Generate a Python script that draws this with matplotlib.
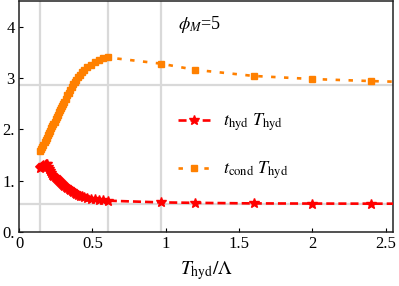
import matplotlib
matplotlib.use("Agg")
import matplotlib.pyplot as plt

# ---- data ----
x_vals = [0.145, 0.152, 0.16, 0.167, 0.175, 0.182, 0.19, 0.197, 0.205, 0.212,
          0.22, 0.228, 0.235, 0.243, 0.25, 0.258, 0.265, 0.273, 0.28, 0.288,
          0.295, 0.303, 0.31, 0.32, 0.33, 0.34, 0.35, 0.36, 0.37, 0.38,
          0.39, 0.402, 0.415, 0.43, 0.445, 0.465, 0.49, 0.515, 0.545, 0.575,
          0.605, 0.967, 1.2, 1.6, 2.0, 2.4, 2.8]
t_cond = [1.58, 1.62, 1.66, 1.70, 1.75, 1.79, 1.84, 1.88, 1.93, 1.97,
          2.02, 2.06, 2.11, 2.15, 2.20, 2.24, 2.28, 2.33, 2.37, 2.41,
          2.46, 2.50, 2.54, 2.60, 2.66, 2.71, 2.77, 2.82, 2.88, 2.93,
          2.97, 3.02, 3.06, 3.11, 3.16, 3.21, 3.26, 3.31, 3.35, 3.38,
          3.40, 3.28, 3.16, 3.04, 2.98, 2.94, 2.91]
t_hyd = [1.25, 1.27, 1.29, 1.30, 1.31, 1.32, 1.33, 1.26, 1.22, 1.18,
         1.15, 1.12, 1.09, 1.07, 1.05, 1.03, 1.01, 0.99, 0.97, 0.95,
         0.93, 0.91, 0.89, 0.87, 0.85, 0.83, 0.81, 0.79, 0.77, 0.755,
         0.74, 0.725, 0.71, 0.695, 0.68, 0.665, 0.65, 0.64, 0.63, 0.62,
         0.61, 0.577, 0.568, 0.557, 0.554, 0.552, 0.551]
grid_x = [0.145, 0.605, 0.966]
grid_y = [2.86, 0.55]
x_ticks = [0, 0.5, 1, 1.5, 2, 2.5]
x_ticklabels = ["0", "0.5", "1", "1.5", "2", "2.5"]
y_ticks = [0, 1, 2, 3, 4]
y_ticklabels = ["0.", "1.", "2.", "3", "4"]
label_hyd = r"$t_{\mathrm{hyd}}\ T_{\mathrm{hyd}}$"
label_cond = r"$t_{\mathrm{cond}}\ T_{\mathrm{hyd}}$"
annotation = r"$\phi_M$=5"
xlabel = r"$T_{\mathrm{hyd}}/\Lambda$"

plt.rcParams["font.family"] = ["Liberation Serif", "DejaVu Serif"]
plt.rcParams["mathtext.fontset"] = "stix"
plt.rcParams["lines.scale_dashes"] = False

fig = plt.figure(figsize=(3.99, 2.86), dpi=100)
ax = fig.add_axes([19/399, (286-232)/286, (393-19)/399, 231/286])

for gx in grid_x:
    ax.axvline(gx, color="#d9d9d9", lw=1.6, zorder=0)
for gy in grid_y:
    ax.axhline(gy, color="#d9d9d9", lw=1.6, zorder=0)

ax.plot(x_vals, t_hyd, color="#ff0000", lw=1.9, dashes=(5.8, 2.9),
        marker="*", markersize=7, label=label_hyd, zorder=3)
ax.plot(x_vals, t_cond, color="#ff8000", lw=1.9, dashes=(3.2, 6.1),
        marker="s", markersize=4.2, label=label_cond, zorder=3)

ax.set_xlim(0, 2.55)
ax.set_ylim(0, 4.5)
ax.set_xticks(x_ticks)
ax.set_xticklabels(x_ticklabels, fontsize=12)
ax.set_yticks(y_ticks)
ax.set_yticklabels(y_ticklabels, fontsize=12)
ax.tick_params(direction="in", length=3, width=0.8, pad=3, top=False, right=False)
for s in ax.spines.values():
    s.set_color("#222222")
    s.set_linewidth(1.1)

ax.set_xlabel(xlabel, fontsize=14, labelpad=5)

ax.text(0.425, 0.90, annotation, transform=ax.transAxes, fontsize=13,
        ha="left", va="center")

leg = ax.legend(loc="center left", bbox_to_anchor=(0.425, 0.37),
                frameon=False, fontsize=13, handlelength=1.75,
                handletextpad=0.75, labelspacing=1.45, borderpad=0,
                borderaxespad=0, numpoints=1)

fig.savefig("out.png", dpi=100)
